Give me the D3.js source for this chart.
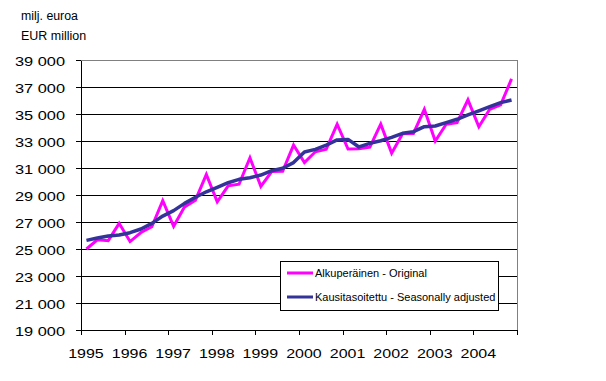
<!DOCTYPE html>
<html>
<head>
<meta charset="utf-8">
<script src="https://cdn.jsdelivr.net/npm/d3@7"></script>
<style>
body { margin: 0; background: #fff; }
text { font-family: "Liberation Sans", Arial, sans-serif; fill: #000; }
</style>
</head>
<body>
<svg id="mysvg" width="606" height="381"></svg>
<script>
// quarterly figures, milj. euroa
var years = [1995, 1996, 1997, 1998, 1999, 2000, 2001, 2002, 2003, 2004];
var quarters = ["Q1", "Q2", "Q3", "Q4"];
var original = [25000, 25680, 25620, 26900, 25550, 26220, 26650, 28580, 26680, 28120,
                28620, 30520, 28500, 29680, 29800, 31760, 29640, 30740, 30760, 32700,
                31400, 32200, 32400, 34250, 32400, 32420, 32550, 34250, 32100, 33540,
                33560, 35350, 33000, 34240, 34360, 36050, 34060, 35350, 35680, 37600];
var adjusted = [25640, 25810, 25960, 26040, 26210, 26480, 26900, 27440, 27840, 28380,
                28830, 29240, 29570, 29910, 30160, 30280, 30480, 30800, 30980, 31400,
                32180, 32380, 32700, 33080, 33120, 32560, 32830, 33020, 33270, 33570,
                33690, 34060, 34110, 34360, 34610, 34930, 35240, 35540, 35840, 36040];
var yTicks = [19000, 21000, 23000, 25000, 27000, 29000, 31000, 33000, 35000, 37000, 39000];
var seriesNames = ["Alkuperäinen - Original", "Kausitasoitettu - Seasonally adjusted"];
var seriesColors = ["#ff00ff", "#333399"];

var cats = [];
years.forEach(function (y) { quarters.forEach(function (q) { cats.push(y + q); }); });

var svg = d3.select("#mysvg");
var plotL = 81, plotR = 517, plotT = 60, plotB = 330;

var x = d3.scaleBand().domain(cats).range([plotL, plotR]).padding(0);
var xYear = d3.scaleLinear().domain([years[0], years[years.length - 1] + 1]).range([plotL, plotR]);
var y = d3.scaleLinear().domain([19000, 39000]).range([plotB, plotT]);
var fmt = function (v) { return d3.format(",")(v).replace(",", " "); };

// titles
svg.append("text").attr("transform", "translate(21,20) scale(1.03,1)").style("font-size", "12px").text("milj. euroa");
svg.append("text").attr("transform", "translate(21,40) scale(1.04,1)").style("font-size", "12px").text("EUR million");

// gridlines
svg.append("g").selectAll("line").data(yTicks.slice(1, -1)).enter().append("line")
	.attr("x1", plotL).attr("x2", plotR)
	.attr("y1", function (d) { return y(d); }).attr("y2", function (d) { return y(d); })
	.attr("stroke", "#000").attr("stroke-width", 1).attr("shape-rendering", "crispEdges");

// plot border top/right
svg.append("path").attr("d", "M" + plotL + "," + plotT + "H" + plotR + "V" + plotB)
	.attr("fill", "none").attr("stroke", "#808080").attr("stroke-width", 1).attr("shape-rendering", "crispEdges");

// y axis
var yAxis = svg.append("g").attr("transform", "translate(" + plotL + ",0)")
	.call(d3.axisLeft(y).tickValues(yTicks).tickSize(5).tickSizeOuter(0).tickFormat(""));
yAxis.selectAll("path, line").attr("stroke", "#000").attr("shape-rendering", "crispEdges");
svg.append("g").selectAll("text").data(yTicks).enter().append("text")
	.attr("transform", function (d) { return "translate(65," + (y(d) + 5.5) + ") scale(1.26,1)"; })
	.attr("text-anchor", "end").style("font-size", "13px")
	.text(fmt);

// x axis
var xAxis = svg.append("g").attr("transform", "translate(0," + plotB + ")")
	.call(d3.axisBottom(xYear).tickValues(d3.range(years[0], years[years.length - 1] + 2)).tickSize(5).tickSizeOuter(0).tickFormat(""));
xAxis.selectAll("path, line").attr("stroke", "#000").attr("shape-rendering", "crispEdges");
svg.append("g").selectAll("text").data(years).enter().append("text")
	.attr("transform", function (d) { return "translate(" + (x(d + "Q1") + x.bandwidth() / 2 - 0.5) + ",357.5) scale(1.23,1)"; })
	.attr("text-anchor", "middle").style("font-size", "13px")
	.text(function (d) { return d; });

// lines
var line = d3.line()
	.x(function (d, i) { return x(cats[i]) + x.bandwidth() / 2; })
	.y(function (d) { return y(d); });

svg.append("path").datum(original).attr("d", line)
	.attr("fill", "none").attr("stroke", seriesColors[0]).attr("stroke-width", 3).attr("stroke-linejoin", "miter");
svg.append("path").datum(adjusted).attr("d", line)
	.attr("fill", "none").attr("stroke", seriesColors[1]).attr("stroke-width", 3.5).attr("stroke-linejoin", "round");

// legend
var legend = svg.append("g").attr("transform", "translate(280,261)");
legend.append("rect").attr("x", 0.5).attr("y", 0.5).attr("width", 218).attr("height", 49)
	.attr("fill", "#fff").attr("stroke", "#000").attr("stroke-width", 1).attr("shape-rendering", "crispEdges");
seriesNames.forEach(function (name, i) {
	var ly = 12 + i * 24;
	legend.append("line").attr("x1", 7).attr("x2", 33).attr("y1", ly).attr("y2", ly)
		.attr("stroke", seriesColors[i]).attr("stroke-width", 3);
	legend.append("text").attr("x", 35).attr("y", ly + 4).style("font-size", "11px").text(name);
});
</script>
</body>
</html>
